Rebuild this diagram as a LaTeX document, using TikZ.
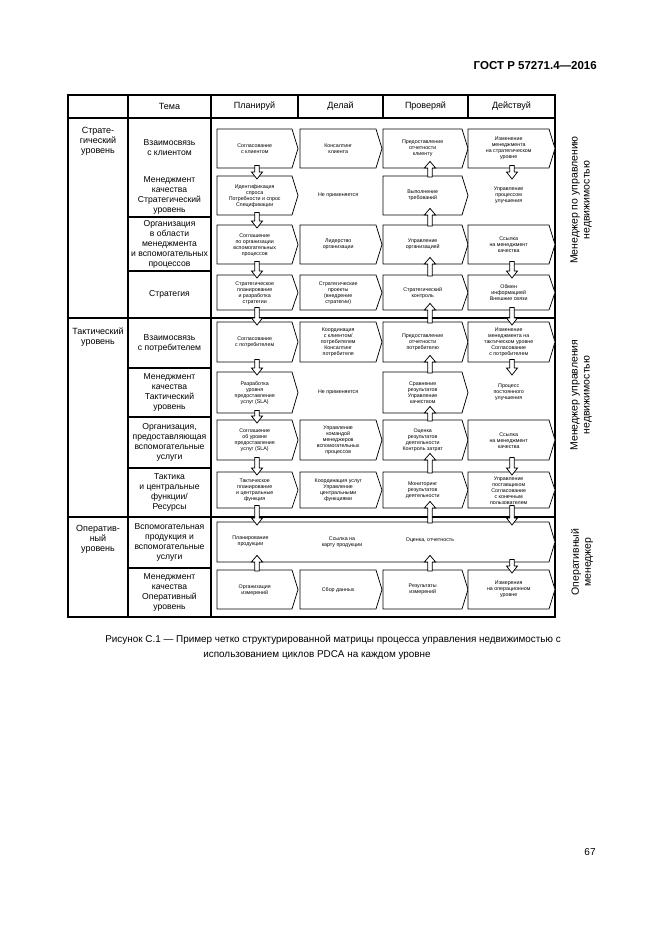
\documentclass[tikz,border=0pt]{standalone}
\usepackage{fontspec}
\setmainfont{Liberation Sans}
\usetikzlibrary{calc}
\tikzset{
  tbl/.style={line width=1.3pt},
  proc/.style={draw, line width=0.75pt, fill=white, line join=miter},
  stxt/.style={font=\fontsize{5.3}{6}\selectfont, align=center, inner sep=0pt},
  ttxt/.style={font=\fontsize{8.6}{10}\selectfont, align=center, inner sep=0pt},
  ltxt/.style={font=\fontsize{9}{10}\selectfont, align=center, inner sep=0pt, anchor=north},
  htxt/.style={font=\fontsize{9}{11}\selectfont, inner sep=0pt},
  side/.style={font=\fontsize{10.5}{12}\selectfont, align=center, inner sep=0pt, rotate=90},
  barr/.style={draw, line width=0.75pt, fill=white, line join=miter},
  captxt/.style={font=\fontsize{9.9}{11}\selectfont, inner sep=0pt},
}
% chevron shape: name, x1, y1, x2 (tip), y2, text
\newcommand\mychev[6]{%
  \draw[proc] (#2,#3) -- (#4-6,#3) -- (#4,{(#3+#5)/2}) -- (#4-6,#5) -- (#2,#5) -- cycle;
  \node[stxt, minimum width={(#4-#2-6)*1pt}, minimum height={(#5-#3)*1pt}, anchor=north west] (#1) at (#2,#3) {#6};
}
% plain text cell (no outline)
\newcommand\mycell[6]{%
  \node[stxt, minimum width={(#4-#2-6)*1pt}, minimum height={(#5-#3)*1pt}, anchor=north west] (#1) at (#2,#3) {#6};
}
% hollow block arrow pointing down: x, upper node, lower node
\newcommand\myadown[3]{%
  \draw[barr] let \p1=(#2.south), \p2=(#3.north) in
    (#1pt-2.2pt,\y1+3pt) -- (#1pt-2.2pt,\y2+4pt) -- (#1pt-5.5pt,\y2+4pt) -- (#1pt,\y2-3pt)
    -- (#1pt+5.5pt,\y2+4pt) -- (#1pt+2.2pt,\y2+4pt) -- (#1pt+2.2pt,\y1+3pt) -- cycle;
}
% hollow block arrow pointing up: x, upper node, lower node
\newcommand\myaup[3]{%
  \draw[barr] let \p1=(#2.south), \p2=(#3.north) in
    (#1pt-2.2pt,\y2-1pt) -- (#1pt-2.2pt,\y1+0.5pt) -- (#1pt-5.5pt,\y1+0.5pt) -- (#1pt,\y1+7pt)
    -- (#1pt+5.5pt,\y1+0.5pt) -- (#1pt+2.2pt,\y1+0.5pt) -- (#1pt+2.2pt,\y2-1pt) -- cycle;
}
\begin{document}
\begin{tikzpicture}[x=1pt,y=-1pt]
\useasboundingbox[fill=white] (0,0) rectangle (661,935);

% page header and number
\node[font=\fontsize{11.5}{13}\selectfont\bfseries, inner sep=0pt, anchor=east] (gost) at (597,66) {ГОСТ Р 57271.4—2016};
\node[font=\fontsize{10}{12}\selectfont, inner sep=0pt] (pnum) at (590,852) {67};

% table frame
\draw[tbl] (68,95) rectangle (555,617);
\draw[tbl] (68,118) -- (555,118);
\draw[tbl] (128,95) -- (128,617);
\draw[tbl] (211,95) -- (211,617);
\foreach \x in {298,383,468} \draw[tbl] (\x,95) -- (\x,118);
\draw[tbl] (68,318) -- (555,318);
\draw[tbl] (68,517) -- (555,517);
\foreach \y in {217,271,368,417,468,568} \draw[tbl] (128,\y) -- (211,\y);

% header
\node[htxt] (h0) at (169.5,106.5) {Тема};
\node[htxt] (h1) at (254.5,106.5) {Планируй};
\node[htxt] (h2) at (340.5,106.5) {Делай};
\node[htxt] (h3) at (425.5,106.5) {Проверяй};
\node[htxt] (h4) at (511.5,106.5) {Действуй};

% levels
\node[ltxt] (l1) at (98,127.5) {Страте-\\гический\\уровень};
\node[ltxt] (l2) at (98,327.5) {Тактический\\уровень};
\node[ltxt] (l3) at (98,525.5) {Оператив-\\ный\\уровень};

% topics
\node[ttxt] (t1) at (169.5,148) {Взаимосвязь\\с клиентом};
\node[ttxt] (t2) at (169.5,195) {Менеджмент\\качества\\Стратегический\\уровень};
\node[ttxt] (t3) at (169.5,244) {Организация\\в области\\менеджмента\\и вспомогательных\\процессов};
\node[ttxt] (t4) at (169.5,294.5) {Стратегия};
\node[ttxt] (t5) at (169.5,343) {Взаимосвязь\\с потребителем};
\node[ttxt] (t6) at (169.5,392.5) {Менеджмент\\качества\\Тактический\\уровень};
\node[ttxt] (t7) at (169.5,442.5) {Организация,\\предоставляющая\\вспомогательные\\услуги};
\node[ttxt] (t8) at (169.5,492.5) {Тактика\\и центральные\\функции/\\Ресурсы};
\node[ttxt] (t9) at (169.5,542.5) {Вспомогательная\\продукция и\\вспомогательные\\услуги};
\node[ttxt] (t10) at (169.5,592.5) {Менеджмент\\качества\\Оперативный\\уровень};

% row 1
\mychev{p1}{217}{129}{298}{168}{Согласование\\с клиентом}
\mychev{d1}{300}{129}{382}{168}{Консалтинг\\клиента}
\mychev{c1}{383}{129}{468}{168}{Предоставление\\отчетности\\клиенту}
\mychev{a1}{468}{129}{555}{168}{Изменение\\менеджмента\\на стратегическом\\уровне}
% row 2
\mychev{p2}{217}{176}{298}{215}{Идентификация\\спроса\\Потребности и спрос\\Спецификации}
\mycell{d2}{300}{176}{382}{215}{Не применяется}
\mychev{c2}{383}{176}{468}{215}{Выполнение\\требований}
\mycell{a2}{468}{176}{555}{215}{Управление\\процессом\\улучшения}
% row 3
\mychev{p3}{217}{225}{298}{264}{Соглашение\\по организации\\вспомогательных\\процессов}
\mychev{d3}{300}{225}{382}{264}{Лидерство\\организации}
\mychev{c3}{383}{225}{468}{264}{Управление\\организацией}
\mychev{a3}{468}{225}{555}{264}{Ссылка\\на менеджмент\\качества}
% row 4
\mychev{p4}{217}{275}{298}{310}{Стратегическое\\планирование\\и разработка\\стратегии}
\mychev{d4}{300}{275}{382}{310}{Стратегические\\проекты\\(внедрение\\стратегии)}
\mychev{c4}{383}{275}{468}{310}{Стратегический\\контроль}
\mychev{a4}{468}{275}{555}{310}{Обмен\\информацией\\Внешние связи}
% row 5
\mychev{p5}{217}{322}{298}{362}{Согласование\\с потребителем}
\mychev{d5}{300}{322}{382}{362}{Координация\\с клиентом/\\потребителем\\Консалтинг\\потребителя}
\mychev{c5}{383}{322}{468}{362}{Предоставление\\отчетности\\потребителю}
\mychev{a5}{468}{322}{555}{362}{Изменение\\менеджмента на\\тактическом уровне\\Согласование\\с потребителем}
% row 6
\mychev{p6}{217}{372}{298}{413}{Разработка\\уровня\\предоставления\\услуг (SLA)}
\mycell{d6}{300}{372}{382}{413}{Не применяется}
\mychev{c6}{383}{372}{468}{413}{Сравнение\\результатов\\Управление\\качеством}
\mycell{a6}{468}{372}{555}{413}{Процесс\\постоянного\\улучшения}
% row 7
\mychev{p7}{217}{420}{298}{460}{Соглашение\\об уровне\\предоставления\\услуг (SLA)}
\mychev{d7}{300}{420}{382}{460}{Управление\\командой\\менеджеров\\вспомогательных\\процессов}
\mychev{c7}{383}{420}{468}{460}{Оценка\\результатов\\деятельности\\Контроль затрат}
\mychev{a7}{468}{420}{555}{460}{Ссылка\\на менеджмент\\качества}
% row 8
\mychev{p8}{217}{472}{298}{508}{Тактическое\\планирование\\и центральные\\функция}
\mychev{d8}{300}{472}{382}{508}{Координация услуг\\Управление\\центральными\\функциями}
\mychev{c8}{383}{472}{468}{508}{Мониторинг\\результатов\\деятельности}
\mychev{a8}{468}{472}{555}{508}{Управление\\поставщиком\\Согласование\\с конечным\\пользователем}
% row 9 (one long arrow)
\mychev{r9}{217}{522}{555}{562}{}
\node[stxt] (r9p) at (250.5,541) {Планирование\\продукции};
\node[stxt] (r9d) at (342,542) {Ссылка на\\карту продукции};
\node[stxt] (r9c) at (430,540) {Оценка, отчетность};
% row 10
\mychev{p10}{217}{570}{298}{609}{Организация\\измерений}
\mychev{d10}{300}{570}{382}{609}{Сбор данных}
\mychev{c10}{383}{570}{468}{609}{Результаты\\измерений}
\mychev{a10}{468}{570}{555}{609}{Измерения\\на операционном\\уровне}

% Plan column: down arrows
\myadown{257}{p1}{p2}
\myadown{257}{p2}{p3}
\myadown{257}{p3}{p4}
\myadown{257}{p4}{p5}
\myadown{257}{p5}{p6}
\myadown{257}{p6}{p7}
\myadown{257}{p7}{p8}
\myadown{257}{p8}{r9}
\myaup{257}{r9}{p10}
% Check column: up arrows
\myaup{430}{c1}{c2}
\myaup{430}{c2}{c3}
\myaup{430}{c3}{c4}
\myaup{430}{c4}{c5}
\myaup{430}{c5}{c6}
\myaup{430}{c6}{c7}
\myaup{430}{c7}{c8}
\myaup{430}{c8}{r9}
\myaup{430}{r9}{c10}
% Act column: down arrows
\myadown{512}{a1}{a2}
\myadown{512}{a3}{a4}
\myadown{512}{a4}{a5}
\myadown{512}{a5}{a6}
\myadown{512}{a7}{a8}
\myadown{512}{a8}{r9}
\myadown{512}{r9}{a10}

% side labels
\node[side] (s1) at (581,200) {Менеджер по управлению\\недвижимостью};
\node[side] (s2) at (581,395) {Менеджер управления\\недвижимостью};
\node[side] (s3) at (582,562) {Оперативный\\менеджер};

% caption
\node[captxt] (cap1) at (333,640) {Рисунок С.1 — Пример четко структурированной матрицы процесса управления недвижимостью с};
\node[captxt] (cap2) at (317,655) {использованием циклов PDCA на каждом уровне};
\end{tikzpicture}
\end{document}
